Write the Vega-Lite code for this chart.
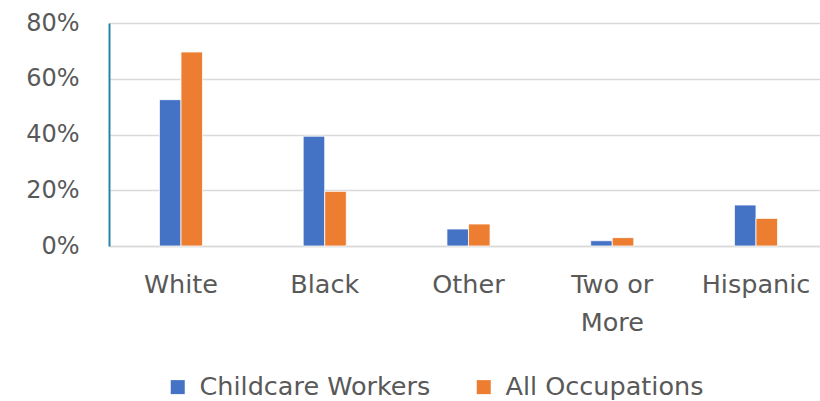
{
  "$schema": "https://vega.github.io/schema/vega-lite/v6.json",
  "width": 711,
  "height": 223,
  "autosize": "none",
  "padding": {"left": 109, "top": 23, "right": 0, "bottom": 155},
  "background": "white",
  "data": {
    "values": [
      {"race": "White", "series": "Childcare Workers", "share": 0.525},
      {"race": "White", "series": "All Occupations", "share": 0.696},
      {"race": "Black", "series": "Childcare Workers", "share": 0.394},
      {"race": "Black", "series": "All Occupations", "share": 0.196},
      {"race": "Other", "series": "Childcare Workers", "share": 0.061},
      {"race": "Other", "series": "All Occupations", "share": 0.079},
      {"race": "Two or More", "series": "Childcare Workers", "share": 0.019},
      {"race": "Two or More", "series": "All Occupations", "share": 0.030},
      {"race": "Hispanic", "series": "Childcare Workers", "share": 0.147},
      {"race": "Hispanic", "series": "All Occupations", "share": 0.099}
    ]
  },
  "config": {
    "view": {"stroke": null},
    "font": "DejaVu Sans"
  },
  "mark": {"type": "bar", "stroke": "white", "strokeWidth": 0.8},
  "encoding": {
    "x": {
      "field": "race",
      "type": "nominal",
      "sort": ["White", "Black", "Other", "Two or More", "Hispanic"],
      "scale": {"paddingInner": 0.7, "paddingOuter": 0.323, "align": 0.543},
      "axis": {
        "title": null,
        "labelAngle": 0,
        "labelFontSize": 25.5,
        "labelColor": "#595959",
        "labelPadding": 26,
        "labelLineHeight": 38,
        "labelExpr": "datum.label == 'Two or More' ? ['Two or', 'More'] : datum.label",
        "ticks": false,
        "domainColor": "#d9d9d9",
        "domainWidth": 1.5
      }
    },
    "xOffset": {
      "field": "series",
      "type": "nominal",
      "sort": ["Childcare Workers", "All Occupations"]
    },
    "y": {
      "field": "share",
      "type": "quantitative",
      "scale": {"domain": [0, 0.8]},
      "axis": {
        "title": null,
        "format": ".0%",
        "values": [0, 0.2, 0.4, 0.6, 0.8],
        "labelFontSize": 24,
        "labelColor": "#595959",
        "labelPadding": 30,
        "ticks": false,
        "domainColor": "#2a82aa",
        "domainWidth": 2,
        "gridColor": "#d9d9d9",
        "gridWidth": 1.5
      }
    },
    "color": {
      "field": "series",
      "type": "nominal",
      "sort": ["Childcare Workers", "All Occupations"],
      "scale": {"domain": ["Childcare Workers", "All Occupations"], "range": ["#4472C4", "#ED7D31"]},
      "legend": {
        "title": null,
        "orient": "none",
        "legendX": 56,
        "legendY": 351,
        "direction": "horizontal",
        "columns": 2,
        "columnPadding": 40,
        "symbolType": "square",
        "symbolSize": 196,
        "symbolStrokeWidth": 0,
        "labelFontSize": 25.5,
        "labelColor": "#595959",
        "labelOffset": 9,
        "labelLimit": 400
      }
    }
  }
}
